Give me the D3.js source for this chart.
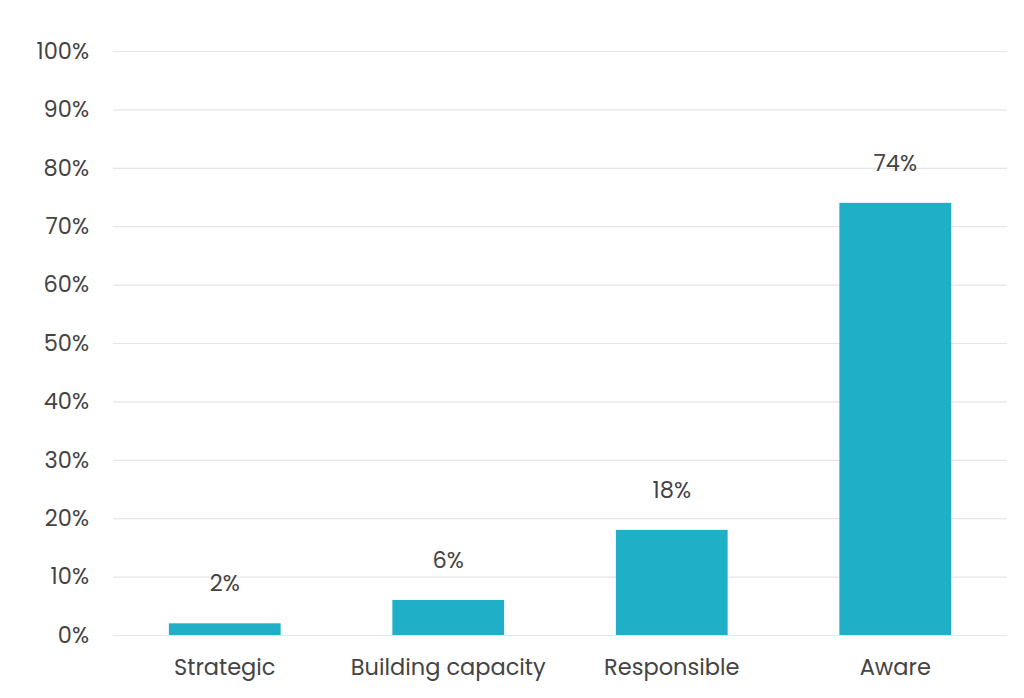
<!DOCTYPE html>
<html>
<head>
<meta charset="utf-8">
<script src="https://cdn.jsdelivr.net/npm/d3@7"></script>
<style>
  body { margin: 0; background: #fff; overflow: hidden; }
  svg { display: block; }
  text { font-family: "Poppins", "Inter", "Open Sans", sans-serif; }
</style>
</head>
<body>
<div id="chartContainer"></div>
<script>
// Chart data
const categories = ["Strategic", "Building capacity", "Responsible", "Aware"];
const values = [2, 6, 18, 74];
const yTicks = [0, 10, 20, 30, 40, 50, 60, 70, 80, 90, 100];

// Set chart dimensions
const w = 1024;
const h = 698;
const margins = { top: 51, left: 113, bottom: 63, right: 17 };
const innerWidth = w - margins.left - margins.right;
const innerHeight = h - margins.top - margins.bottom;

const svg = d3.select("#chartContainer")
  .append("svg")
    .attr("width", w)
    .attr("height", h);

const mainG = svg.append("g")
  .attr("transform", `translate(${margins.left}, ${margins.top})`);

// Scales
const xScale = d3.scaleBand()
  .domain(categories)
  .range([0, innerWidth])
  .paddingInner(0.5)
  .paddingOuter(0.25);

const yScale = d3.scaleLinear()
  .domain([0, 100])
  .range([innerHeight, 0]);

// Gridlines + y labels
const yAxis = mainG.append("g")
  .attr("id", "yAxis")
  .call(d3.axisLeft(yScale)
    .tickValues(yTicks)
    .tickSize(-innerWidth)
    .tickPadding(24)
    .tickFormat(d => d + "%"));
yAxis.select(".domain").remove();
yAxis.selectAll(".tick line").attr("stroke", "#e6e6e6").attr("stroke-width", 1.2);
yAxis.selectAll(".tick text")
  .attr("fill", "#444")
  .attr("font-size", 22.5);

// x labels
const xAxis = mainG.append("g")
  .attr("id", "xAxis")
  .attr("transform", `translate(0, ${innerHeight})`)
  .call(d3.axisBottom(xScale).tickSize(0).tickPadding(24));
xAxis.select(".domain").remove();
xAxis.selectAll(".tick text")
  .attr("fill", "#444")
  .attr("font-size", 22.5);

const data = categories.map((c, i) => ({ cat: c, val: values[i] }));

// Bars
mainG.selectAll(".bar")
  .data(data)
  .enter()
  .append("rect")
    .attr("class", "bar")
    .attr("x", d => xScale(d.cat))
    .attr("y", d => yScale(d.val))
    .attr("width", xScale.bandwidth())
    .attr("height", d => innerHeight - yScale(d.val))
    .attr("fill", "#1fafc6");

// Bar labels
mainG.selectAll(".barLabel")
  .data(data)
  .enter()
  .append("text")
    .attr("class", "barLabel")
    .attr("x", d => xScale(d.cat) + xScale.bandwidth() / 2)
    .attr("y", d => yScale(d.val) - 32)
    .attr("text-anchor", "middle")
    .attr("font-size", 22.5)
    .attr("fill", "#444")
    .text(d => d.val + "%");
</script>
</body>
</html>
